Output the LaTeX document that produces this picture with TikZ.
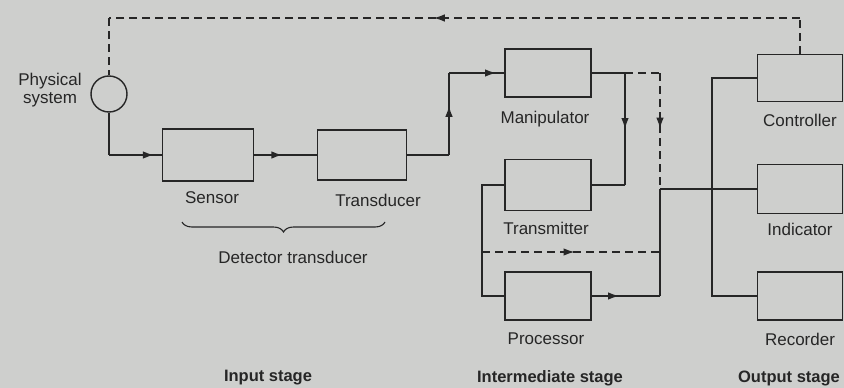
\documentclass[tikz,border=0pt]{standalone}
\usepackage{fontspec}
\setmainfont{Liberation Sans}
\usetikzlibrary{arrows.meta,decorations.markings,decorations.pathreplacing}

\definecolor{paper}{RGB}{206,207,205}
\definecolor{ink}{RGB}{38,38,38}

\tikzset{
  block/.style={draw, line width=1.4pt, minimum width=86pt, minimum height=48pt, inner sep=0pt},
  midarr/.style={postaction={decorate}, decoration={markings,
      mark=at position #1 with {\arrow{Latex[length=11pt,width=7.5pt]}}}},
  midarr/.default=0.5,
  feedback/.style={dash pattern=on 8pt off 5pt},
  caption/.style={font=\fontsize{17}{20}\selectfont},
  stage/.style={font=\fontsize{16.5}{19}\selectfont\bfseries},
}

\begin{document}
\begin{tikzpicture}[x=1pt, y=-1pt, line width=1.4pt, draw=ink, text=ink]
\fill[paper] (0,0) rectangle (844,388) ;
\useasboundingbox (0,0) rectangle (844,388) ;
% blocks
\node[draw, circle, minimum size=36pt, inner sep=0pt] (phys) at (109,94) {} ;
\node[block, minimum width=91pt, minimum height=52pt] (sensor) at (208,155) {} ;
\node[block, minimum width=89pt, minimum height=50pt] (trans) at (362,155) {} ;
\node[block] (manip) at (548,73) {} ;
\node[block, minimum height=51pt] (transm) at (548,185) {} ;
\node[block] (proc) at (548,296) {} ;
\node[block, minimum width=85pt, minimum height=47pt] (contr) at (800,78) {} ;
\node[block, minimum width=85pt, minimum height=49pt] (indic) at (800,189) {} ;
\node[block, minimum width=85pt] (recor) at (800,296) {} ;
% captions
\node[caption, align=center] (physlbl) at (50,90) {Physical\\[-2pt]system} ;
\node[caption] (senslbl) at (212,198) {Sensor} ;
\node[caption] (translbl) at (378,200) {Transducer} ;
\node[caption] (detlbl) at (293,257) {Detector transducer} ;
\node[caption] (maniplbl) at (545,119) {Manipulator} ;
\node[caption] (transmlbl) at (546,228) {Transmitter} ;
\node[caption] (proclbl) at (546,339) {Processor} ;
\node[caption] (contrlbl) at (800,120) {Controller} ;
\node[caption] (indiclbl) at (800,229) {Indicator} ;
\node[caption] (recorlbl) at (800,339) {Recorder} ;
\node[stage] (inst) at (268,378) {Input stage} ;
\node[stage] (midst) at (550,378) {Intermediate stage} ;
\node[stage] (outst) at (789,378) {Output stage} ;
% input stage
\coordinate (k1) at (phys.south |- sensor.west) ;
\draw (phys.south) -- (k1) ;
\draw[midarr=0.85] (k1) -- (sensor.west) ;
\draw[midarr=0.45] (sensor.east) -- (trans.east -| trans.west) ;
\draw[decorate, decoration={brace, mirror, amplitude=10pt}, line width=1.1pt]
   (182,222) -- (385,222) ;
% intermediate stage
\coordinate (t1) at (449,155) ;
\coordinate (t2) at (t1 |- manip.west) ;
\draw (trans.east) -- (t1) ;
\draw[midarr=0.6] (t1) -- (t2) ;
\draw[midarr=0.85] (t2) -- (manip.west) ;
\coordinate (m1) at (625,73) ;
\coordinate (m2) at (m1 |- transm.east) ;
\draw (manip.east) -- (m1) ;
\draw[midarr] (m1) -- (m2) ;
\draw (m2) -- (transm.east) ;
\coordinate (d1) at (660,73) ;
\coordinate (jn) at (d1 |- indic.west) ;
\draw[feedback] (m1) -- (d1) ;
\draw[feedback, midarr=0.48] (d1) -- (jn) ;
\coordinate (p1) at (jn |- proc.east) ;
\draw[midarr=0.4] (proc.east) -- (p1) ;
\draw (p1) -- (jn) ;
\coordinate (l1) at (482,185) ;
\coordinate (l2) at (l1 |- proc.west) ;
\draw (transm.west) -- (l1) -- (l2) -- (proc.west) ;
\coordinate (l3) at (482,252) ;
\draw[feedback, midarr=0.52] (l3) -- (l3 -| jn) ;
% output stage
\draw (jn) -- (indic.west) ;
\coordinate (b1) at (712,78) ;
\coordinate (b2) at (b1 |- recor.west) ;
\draw (contr.west) -- (b1) -- (b2) -- (recor.west) ;
% feedback to the physical system
\coordinate (f1) at (contr.north |- 0,18) ;
\coordinate (f2) at (phys.north |- 0,18) ;
\draw[feedback] (contr.north) -- (f1) ;
\draw[feedback, midarr=0.53] (f1) -- (f2) ;
\draw[feedback] (f2) -- (phys.north) ;
\end{tikzpicture}
\end{document}
